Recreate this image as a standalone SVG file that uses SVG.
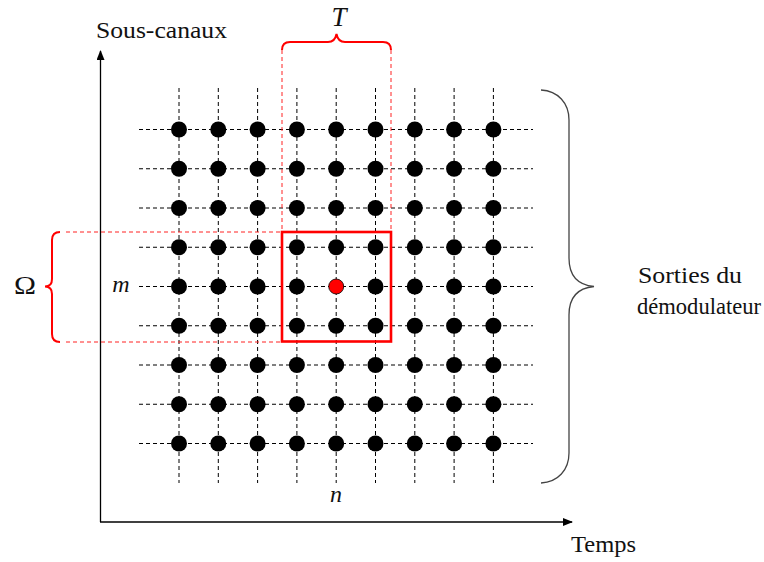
<svg xmlns="http://www.w3.org/2000/svg" width="764" height="562" viewBox="0 0 764 562">
<style>
.grid{stroke:#000;stroke-width:1;stroke-dasharray:4 3;fill:none}
.rdash{stroke:#f22;stroke-width:1;stroke-dasharray:4 3;fill:none}
.dot{fill:#000}
.axis{stroke:#000;stroke-width:1.3;fill:none}
</style>
<defs>
<marker id="arr" markerWidth="10" markerHeight="8" refX="9" refY="4" orient="auto" markerUnits="userSpaceOnUse">
<path d="M0,0 L10,4 L0,8 Z" fill="#000"/>
</marker>
</defs>
<rect width="764" height="562" fill="#fff"/>
<g id="connectors">
<g id="grid-h">
<line class="grid" x1="139" y1="129.5" x2="533" y2="129.5"/>
<line class="grid" x1="139" y1="168.75" x2="533" y2="168.75"/>
<line class="grid" x1="139" y1="208" x2="533" y2="208"/>
<line class="grid" x1="139" y1="247.25" x2="533" y2="247.25"/>
<line class="grid" x1="139" y1="286.5" x2="533" y2="286.5"/>
<line class="grid" x1="139" y1="325.75" x2="533" y2="325.75"/>
<line class="grid" x1="139" y1="365" x2="533" y2="365"/>
<line class="grid" x1="139" y1="404.25" x2="533" y2="404.25"/>
<line class="grid" x1="139" y1="443.5" x2="533" y2="443.5"/>
</g>
<g id="grid-v">
<line class="grid" x1="179" y1="88" x2="179" y2="483"/>
<line class="grid" x1="218.3" y1="88" x2="218.3" y2="483"/>
<line class="grid" x1="257.6" y1="88" x2="257.6" y2="483"/>
<line class="grid" x1="296.9" y1="88" x2="296.9" y2="483"/>
<line class="grid" x1="336.2" y1="88" x2="336.2" y2="483"/>
<line class="grid" x1="375.5" y1="88" x2="375.5" y2="483"/>
<line class="grid" x1="414.8" y1="88" x2="414.8" y2="483"/>
<line class="grid" x1="454.1" y1="88" x2="454.1" y2="483"/>
<line class="grid" x1="493.4" y1="88" x2="493.4" y2="483"/>
</g>
<g id="axes">
<line class="axis" x1="100.5" y1="522" x2="100.5" y2="51" marker-end="url(#arr)"/>
<line class="axis" x1="100" y1="522" x2="572" y2="522" marker-end="url(#arr)"/>
</g>
<g id="red-guides">
<line class="rdash" x1="282" y1="50" x2="282" y2="231"/>
<line class="rdash" x1="391" y1="50" x2="391" y2="231"/>
<line class="rdash" x1="66" y1="232" x2="281" y2="232"/>
<line class="rdash" x1="66" y1="342" x2="281" y2="342"/>
</g>
</g>
<g id="dots">
<circle class="dot" cx="179" cy="129.5" r="8"/><circle class="dot" cx="218.3" cy="129.5" r="8"/><circle class="dot" cx="257.6" cy="129.5" r="8"/><circle class="dot" cx="296.9" cy="129.5" r="8"/><circle class="dot" cx="336.2" cy="129.5" r="8"/><circle class="dot" cx="375.5" cy="129.5" r="8"/><circle class="dot" cx="414.8" cy="129.5" r="8"/><circle class="dot" cx="454.1" cy="129.5" r="8"/><circle class="dot" cx="493.4" cy="129.5" r="8"/>
<circle class="dot" cx="179" cy="168.75" r="8"/><circle class="dot" cx="218.3" cy="168.75" r="8"/><circle class="dot" cx="257.6" cy="168.75" r="8"/><circle class="dot" cx="296.9" cy="168.75" r="8"/><circle class="dot" cx="336.2" cy="168.75" r="8"/><circle class="dot" cx="375.5" cy="168.75" r="8"/><circle class="dot" cx="414.8" cy="168.75" r="8"/><circle class="dot" cx="454.1" cy="168.75" r="8"/><circle class="dot" cx="493.4" cy="168.75" r="8"/>
<circle class="dot" cx="179" cy="208" r="8"/><circle class="dot" cx="218.3" cy="208" r="8"/><circle class="dot" cx="257.6" cy="208" r="8"/><circle class="dot" cx="296.9" cy="208" r="8"/><circle class="dot" cx="336.2" cy="208" r="8"/><circle class="dot" cx="375.5" cy="208" r="8"/><circle class="dot" cx="414.8" cy="208" r="8"/><circle class="dot" cx="454.1" cy="208" r="8"/><circle class="dot" cx="493.4" cy="208" r="8"/>
<circle class="dot" cx="179" cy="247.25" r="8"/><circle class="dot" cx="218.3" cy="247.25" r="8"/><circle class="dot" cx="257.6" cy="247.25" r="8"/><circle class="dot" cx="296.9" cy="247.25" r="8"/><circle class="dot" cx="336.2" cy="247.25" r="8"/><circle class="dot" cx="375.5" cy="247.25" r="8"/><circle class="dot" cx="414.8" cy="247.25" r="8"/><circle class="dot" cx="454.1" cy="247.25" r="8"/><circle class="dot" cx="493.4" cy="247.25" r="8"/>
<circle class="dot" cx="179" cy="286.5" r="8"/><circle class="dot" cx="218.3" cy="286.5" r="8"/><circle class="dot" cx="257.6" cy="286.5" r="8"/><circle class="dot" cx="296.9" cy="286.5" r="8"/><circle class="dot" cx="375.5" cy="286.5" r="8"/><circle class="dot" cx="414.8" cy="286.5" r="8"/><circle class="dot" cx="454.1" cy="286.5" r="8"/><circle class="dot" cx="493.4" cy="286.5" r="8"/>
<circle class="dot" cx="179" cy="325.75" r="8"/><circle class="dot" cx="218.3" cy="325.75" r="8"/><circle class="dot" cx="257.6" cy="325.75" r="8"/><circle class="dot" cx="296.9" cy="325.75" r="8"/><circle class="dot" cx="336.2" cy="325.75" r="8"/><circle class="dot" cx="375.5" cy="325.75" r="8"/><circle class="dot" cx="414.8" cy="325.75" r="8"/><circle class="dot" cx="454.1" cy="325.75" r="8"/><circle class="dot" cx="493.4" cy="325.75" r="8"/>
<circle class="dot" cx="179" cy="365" r="8"/><circle class="dot" cx="218.3" cy="365" r="8"/><circle class="dot" cx="257.6" cy="365" r="8"/><circle class="dot" cx="296.9" cy="365" r="8"/><circle class="dot" cx="336.2" cy="365" r="8"/><circle class="dot" cx="375.5" cy="365" r="8"/><circle class="dot" cx="414.8" cy="365" r="8"/><circle class="dot" cx="454.1" cy="365" r="8"/><circle class="dot" cx="493.4" cy="365" r="8"/>
<circle class="dot" cx="179" cy="404.25" r="8"/><circle class="dot" cx="218.3" cy="404.25" r="8"/><circle class="dot" cx="257.6" cy="404.25" r="8"/><circle class="dot" cx="296.9" cy="404.25" r="8"/><circle class="dot" cx="336.2" cy="404.25" r="8"/><circle class="dot" cx="375.5" cy="404.25" r="8"/><circle class="dot" cx="414.8" cy="404.25" r="8"/><circle class="dot" cx="454.1" cy="404.25" r="8"/><circle class="dot" cx="493.4" cy="404.25" r="8"/>
<circle class="dot" cx="179" cy="443.5" r="8"/><circle class="dot" cx="218.3" cy="443.5" r="8"/><circle class="dot" cx="257.6" cy="443.5" r="8"/><circle class="dot" cx="296.9" cy="443.5" r="8"/><circle class="dot" cx="336.2" cy="443.5" r="8"/><circle class="dot" cx="375.5" cy="443.5" r="8"/><circle class="dot" cx="414.8" cy="443.5" r="8"/><circle class="dot" cx="454.1" cy="443.5" r="8"/><circle class="dot" cx="493.4" cy="443.5" r="8"/>
</g>
<g id="center-dot">
<circle cx="336.2" cy="286.5" r="7.5" fill="#f00" stroke="#000" stroke-width="0.8"/>
</g>
<g id="window">
<rect x="282" y="232" width="109" height="109.5" fill="none" stroke="#f00" stroke-width="2.6"/>
</g>
<g font-family="Liberation Serif, DejaVu Serif, Times New Roman, serif" fill="#111">
<g id="brace-T">
<path d="M282,50 Q282,42 290,42 L328,42 Q335,42 336.5,34 Q338,42 345,42 L383,42 Q391,42 391,50" fill="none" stroke="#f00" stroke-width="2"/>
<text x="339" y="26" font-size="27" font-style="italic" text-anchor="middle">T</text>
</g>
<g id="brace-omega">
<path d="M60,232 Q52,232 52,240 L52,279 Q52,286.5 45,286.5 Q52,286.5 52,294 L52,334 Q52,342 60,342" fill="none" stroke="#f00" stroke-width="2"/>
<text x="25" y="294" font-size="25" text-anchor="middle" textLength="22" lengthAdjust="spacingAndGlyphs">Ω</text>
</g>
<g id="brace-outputs">
<path d="M541,90 C558,91 569,103 569,120 L569,258 C569,276 578,285 594,286.5 C578,288 569,297 569,315 L569,453 C569,470 558,482 541,483" fill="none" stroke="#444" stroke-width="1.3"/>
<text x="690" y="283" font-size="23" text-anchor="middle" textLength="104" lengthAdjust="spacingAndGlyphs">Sorties du</text>
<text x="699" y="314" font-size="23" text-anchor="middle" textLength="124" lengthAdjust="spacingAndGlyphs">démodulateur</text>
</g>
<g id="labels">
<text x="96" y="38" font-size="24" textLength="131" lengthAdjust="spacingAndGlyphs">Sous-canaux</text>
<text x="571" y="552" font-size="24" textLength="65" lengthAdjust="spacingAndGlyphs">Temps</text>
<text x="121" y="292" font-size="24" font-style="italic" text-anchor="middle">m</text>
<text x="336" y="502" font-size="24" font-style="italic" text-anchor="middle">n</text>
</g>
</g>
</svg>
